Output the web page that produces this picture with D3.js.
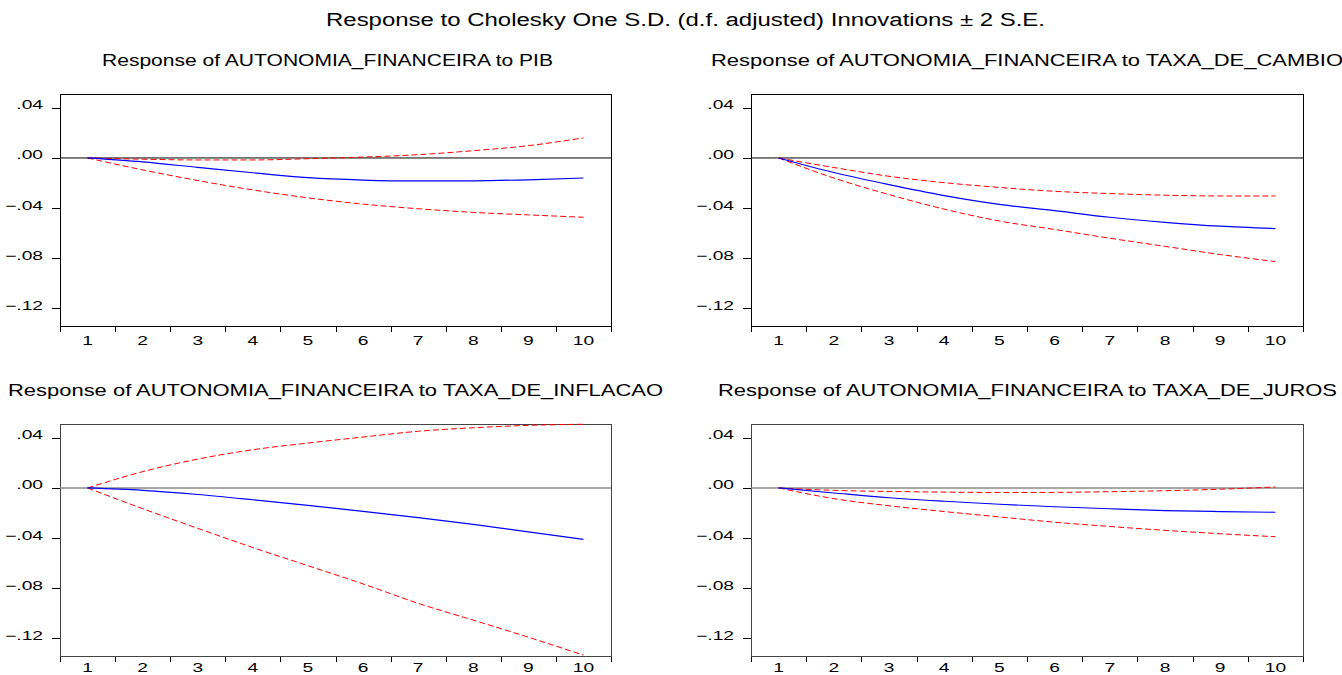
<!DOCTYPE html>
<html>
<head>
<meta charset="utf-8">
<script src="https://cdn.jsdelivr.net/npm/d3@7"></script>
<style>
  body { margin: 0; background: #fff; }
  text { font-family: "Liberation Sans", Arial, sans-serif; fill: #000; }
</style>
</head>
<body>
<div id="chart"></div>
<script>
// periods and y ticks
const periods = [1, 2, 3, 4, 5, 6, 7, 8, 9, 10];
const yTicks = [0.04, 0, -0.04, -0.08, -0.12];
const yDomain = [-0.134, 0.051];

const mainTitle = "Response to Cholesky One S.D. (d.f. adjusted) Innovations \u00b1 2 S.E.";
const panelTitles = [
  "Response of AUTONOMIA_FINANCEIRA to PIB",
  "Response of AUTONOMIA_FINANCEIRA to TAXA_DE_CAMBIO",
  "Response of AUTONOMIA_FINANCEIRA to TAXA_DE_INFLACAO",
  "Response of AUTONOMIA_FINANCEIRA to TAXA_DE_JUROS"
];

// impulse responses (response, +2 S.E., -2 S.E.)
const pibResp  = [0, -0.0032, -0.0075, -0.0118, -0.0157, -0.0176, -0.0183, -0.0182, -0.0174, -0.0160];
const pibUpper = [0, -0.0010, -0.0016, -0.0016, -0.0006, 0.0007, 0.0026, 0.0058, 0.0098, 0.0160];
const pibLower = [0, -0.0095, -0.0180, -0.0255, -0.0318, -0.0368, -0.0405, -0.0434, -0.0454, -0.0473];

const cambioResp  = [0, -0.0116, -0.0213, -0.0300, -0.0370, -0.0420, -0.0473, -0.0513, -0.0544, -0.0563];
const cambioUpper = [0, -0.0076, -0.0146, -0.0197, -0.0235, -0.0266, -0.0284, -0.0297, -0.0303, -0.0303];
const cambioLower = [0, -0.0160, -0.0292, -0.0408, -0.0503, -0.0570, -0.0640, -0.0705, -0.0770, -0.0826];

const inflResp  = [0, -0.0019, -0.0052, -0.0094, -0.0139, -0.0186, -0.0236, -0.0290, -0.0350, -0.0410];
const inflUpper = [0, 0.0130, 0.0230, 0.0305, 0.0358, 0.0406, 0.0452, 0.0480, 0.0499, 0.0508];
const inflLower = [0, -0.0165, -0.0322, -0.0475, -0.0620, -0.0765, -0.0920, -0.1054, -0.1190, -0.1333];

const jurosResp  = [0, -0.0040, -0.0078, -0.0106, -0.0130, -0.0150, -0.0166, -0.0180, -0.0188, -0.0194];
const jurosUpper = [0, -0.0019, -0.0028, -0.0033, -0.0036, -0.0035, -0.0030, -0.0022, -0.0010, 0.0008];
const jurosLower = [0, -0.0085, -0.0142, -0.0188, -0.0231, -0.0273, -0.0307, -0.0338, -0.0365, -0.0389];

const series = [
  [pibResp, pibUpper, pibLower],
  [cambioResp, cambioUpper, cambioLower],
  [inflResp, inflUpper, inflLower],
  [jurosResp, jurosUpper, jurosLower]
];

// panel layout
const layout = [
  {left: 60,  right: 611,  top: 94,  bottom: 326, tx: 102, ty: 66,  tlen: 451, lab: 19, frame: "#000", zero: "#000", zw: 1},
  {left: 751, right: 1303, top: 94,  bottom: 326, tx: 711, ty: 66,  tlen: 632, lab: 19, frame: "#000", zero: "#000", zw: 1},
  {left: 60,  right: 611,  top: 424, bottom: 656, tx: 8,   ty: 396, tlen: 655, lab: 16, frame: "#444", zero: "#888", zw: 1.6},
  {left: 751, right: 1303, top: 424, bottom: 656, tx: 718, ty: 396, tlen: 619, lab: 16, frame: "#444", zero: "#888", zw: 1.6}
];

const w = 1342, h = 675;
const svg = d3.select("#chart").append("svg")
  .attr("width", w)
  .attr("height", h);

svg.append("text")
  .attr("x", 326)
  .attr("y", 26)
  .attr("font-size", 18)
  .attr("textLength", 719)
  .attr("lengthAdjust", "spacingAndGlyphs")
  .text(mainTitle);

const fmt = d => d3.format(".2f")(d).replace("0.", ".");

layout.forEach((p, i) => {
  const [resp, upper, lower] = series[i];
  const x = d3.scaleLinear().domain([0.5, 10.5]).range([p.left, p.right]);
  const y = d3.scaleLinear().domain(yDomain).range([p.bottom, p.top]);
  const g = svg.append("g");

  g.append("text")
    .attr("x", p.tx)
    .attr("y", p.ty)
    .attr("font-size", 16.5)
    .attr("textLength", p.tlen)
    .attr("lengthAdjust", "spacingAndGlyphs")
    .text(panelTitles[i]);

  // y axis
  const ya = g.append("g")
    .attr("transform", `translate(${p.left},0)`)
    .call(d3.axisLeft(y).tickValues(yTicks).tickSize(8).tickFormat(fmt))
    .attr("font-size", 12);
  ya.select(".domain").remove();
  ya.selectAll("line").attr("shape-rendering", "crispEdges");
  ya.selectAll("text")
    .attr("x", 0).attr("dy", null)
    .attr("transform", "translate(-17,1) scale(1.6,1)");

  // x axis ticks on period boundaries
  const xa = g.append("g")
    .attr("transform", `translate(0,${p.bottom})`)
    .call(d3.axisBottom(x).tickValues(d3.range(0.5, 11, 1)).tickSize(6).tickFormat(""));
  xa.select(".domain").remove();
  xa.selectAll("line").attr("shape-rendering", "crispEdges");

  g.selectAll(".xl")
    .data(periods)
    .join("text")
    .attr("class", "xl")
    .attr("font-size", 12)
    .attr("text-anchor", "middle")
    .attr("transform", d => `translate(${x(d)},${p.bottom + p.lab}) scale(1.6,1)`)
    .text(d => d);

  // frame
  g.append("rect")
    .attr("x", p.left).attr("y", p.top)
    .attr("width", p.right - p.left).attr("height", p.bottom - p.top)
    .attr("fill", "none")
    .attr("stroke", p.frame)
    .attr("shape-rendering", "crispEdges");

  // zero line
  g.append("line")
    .attr("x1", p.left).attr("x2", p.right)
    .attr("y1", y(0)).attr("y2", y(0))
    .attr("stroke", p.zero)
    .attr("stroke-width", p.zw);

  const line = d3.line()
    .x((d, j) => x(periods[j]))
    .y(d => y(d))
    .curve(d3.curveMonotoneX);

  [upper, lower].forEach(band => {
    g.append("path")
      .attr("d", line(band))
      .attr("fill", "none")
      .attr("stroke", "#ff0000")
      .attr("stroke-width", 1)
      .attr("stroke-dasharray", "6,3");
  });

  g.append("path")
    .attr("d", line(resp))
    .attr("fill", "none")
    .attr("stroke", "#0000ff")
    .attr("stroke-width", 1.2);
});
</script>
</body>
</html>
